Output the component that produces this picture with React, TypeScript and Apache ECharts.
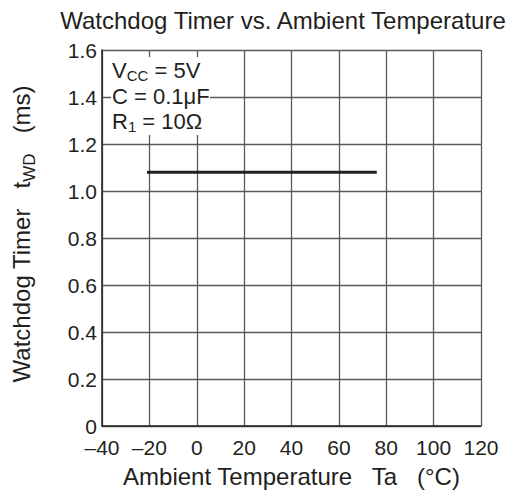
import React, { useEffect, useRef } from "react";
import * as echarts from "echarts";

const xTicks = [-40, -20, 0, 20, 40, 60, 80, 100, 120];
const yTicks = [0, 0.2, 0.4, 0.6, 0.8, 1.0, 1.2, 1.4, 1.6];
const seriesX = [-21, 76];
const seriesY = [1.08, 1.08];
const titleText = "Watchdog Timer vs. Ambient Temperature";
const xName = "Ambient Temperature   Ta   (°C)";

const FONT = "'Liberation Sans', Arial, Helvetica, sans-serif";
const INK = "#231f20";

export default function App() {
  const ref = useRef<HTMLDivElement>(null);
  useEffect(() => {
    if (!ref.current) return;
    const chart = echarts.init(ref.current, null, { renderer: "svg" });
    const data = seriesX.map((x, i) => [x, seriesY[i]]);
    const annot = (y: number, text: string) => ({
      type: "text",
      x: 112,
      y,
      z: 101,
      style: {
        text,
        fill: INK,
        verticalAlign: "middle",
        rich: {
          m: { fontSize: 22, fontFamily: FONT, color: INK, lineHeight: 25, verticalAlign: "middle" },
          s: { fontSize: 15, fontFamily: FONT, color: INK, lineHeight: 25, verticalAlign: "bottom", padding: [4, 0, 0, 0] },
        },
      },
    });
    chart.setOption({
      animation: false,
      backgroundColor: "#fff",
      textStyle: { fontFamily: FONT, color: INK },
      grid: { left: 102, top: 50, width: 379, height: 376, containLabel: false },
      xAxis: {
        type: "value",
        min: xTicks[0],
        max: xTicks[xTicks.length - 1],
        interval: 20,
        axisLine: { show: true, onZero: false, lineStyle: { color: "#222", width: 1.5 } },
        axisTick: { show: false },
        splitLine: { show: true, lineStyle: { color: "#5a5a5a", width: 1.3 } },
        axisLabel: {
          margin: 11,
          fontSize: 21,
          fontFamily: FONT,
          color: INK,
          formatter: (v: number) => (v < 0 ? "\u2013" + Math.abs(v) : String(v)),
        },
        name: xName,
        nameLocation: "middle",
        nameGap: 38,
        nameTextStyle: { fontSize: 24, fontFamily: FONT, color: INK },
      },
      yAxis: {
        type: "value",
        min: yTicks[0],
        max: yTicks[yTicks.length - 1],
        interval: 0.2,
        axisLine: { show: true, onZero: false, lineStyle: { color: "#222", width: 1.5 } },
        axisTick: { show: false },
        splitLine: { show: true, lineStyle: { color: "#5a5a5a", width: 1.3 } },
        axisLabel: {
          margin: 5,
          fontSize: 21,
          fontFamily: FONT,
          color: INK,
          formatter: (v: number) => (v === 0 ? "0" : v.toFixed(1)),
        },
      },
      series: [
        {
          type: "line",
          data,
          symbol: "none",
          lineStyle: { color: INK, width: 3 },
          z: 5,
        },
      ],
      graphic: [
        {
          type: "text",
          x: 283,
          y: 20,
          style: {
            text: titleText,
            fill: INK,
            font: `24px ${FONT}`,
            align: "center",
            verticalAlign: "middle",
          },
        },
        {
          type: "text",
          x: 21,
          y: 234,
          rotation: Math.PI / 2,
          style: {
            text: "{m|Watchdog Timer   t}{s|WD}{m|   (ms)}",
            fill: INK,
            align: "center",
            verticalAlign: "middle",
            rich: {
              m: { fontSize: 24, fontFamily: FONT, color: INK, lineHeight: 34, verticalAlign: "middle" },
              s: { fontSize: 17, fontFamily: FONT, color: INK, lineHeight: 34, verticalAlign: "bottom" },
            },
          },
        },
        {
          type: "rect",
          z: 100,
          shape: { x: 111, y: 57, width: 99, height: 78 },
          style: { fill: "#fff" },
        },
        annot(70, "{m|V}{s|CC}{m| = 5V}"),
        annot(96, "{m|C = 0.1\u03bcF}"),
        annot(121, "{m|R}{s|1}{m| = 10\u03a9}"),
      ],
    });
    return () => chart.dispose();
  }, []);
  return (
    <div
      ref={ref}
      style={{ position: "fixed", left: 0, top: 0, width: 518, height: 504 }}
    />
  );
}
